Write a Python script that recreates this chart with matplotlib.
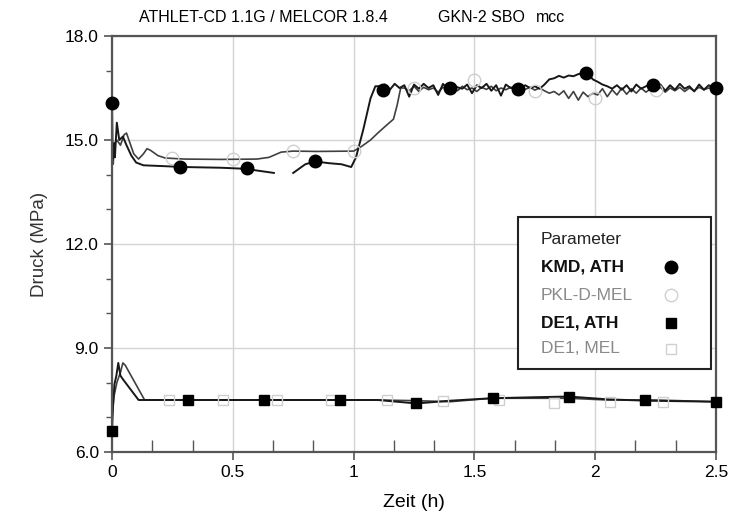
import numpy as np
import matplotlib
matplotlib.use('Agg')
import matplotlib.pyplot as plt
from matplotlib.patches import Rectangle
from matplotlib.ticker import MultipleLocator, FixedLocator

plt.rcParams['font.family'] = ['Liberation Sans', 'DejaVu Sans']

nan = np.nan

# --- KMD, ATH (Druck, MPa) ---
kmd_ath_t = [0.000, 0.003, 0.008, 0.012, 0.020, 0.030, 0.045, 0.060, 0.080, 0.100, 0.130, 0.200,
             0.300, 0.450, 0.550, 0.620, 0.670, nan, 0.750, 0.800, 0.840, 0.900, 0.950, 0.990,
             1.010, 1.040, 1.070, 1.090,
             1.11, 1.13, 1.15, 1.17, 1.19, 1.21, 1.23, 1.25, 1.27, 1.29,
             1.31, 1.33, 1.35, 1.37, 1.39, 1.41, 1.43, 1.45, 1.47, 1.49,
             1.51, 1.53, 1.55, 1.57, 1.59, 1.61, 1.63, 1.65, 1.67, 1.69,
             1.71, 1.73, 1.75, 1.77, 1.79, 1.81, 1.83, 1.85, 1.87, 1.89,
             1.91, 1.93, 1.95, 1.97, 1.99, 2.01, 2.03, 2.05, 2.07, 2.09,
             2.11, 2.13, 2.15, 2.17, 2.19, 2.21, 2.23, 2.25, 2.27, 2.29,
             2.31, 2.33, 2.35, 2.37, 2.39, 2.41, 2.43, 2.45, 2.47, 2.49, 2.50]
kmd_ath_p = [16.07, 14.45, 14.90, 14.50, 15.50, 15.00, 15.10, 14.85, 14.55, 14.35, 14.27, 14.25,
             14.22, 14.20, 14.17, 14.10, 14.05, nan, 14.05, 14.30, 14.38, 14.33, 14.30, 14.22,
             14.50, 15.30, 16.20, 16.55,
             16.55, 16.60, 16.45, 16.62, 16.50, 16.58, 16.25, 16.60, 16.48, 16.62,
             16.50, 16.58, 16.30, 16.62, 16.45, 16.60, 16.52, 16.48, 16.60, 16.35,
             16.58, 16.50, 16.62, 16.42, 16.58, 16.28, 16.60, 16.50, 16.55, 16.45,
             16.58, 16.50, 16.55, 16.48, 16.60, 16.75, 16.78, 16.85, 16.80, 16.86,
             16.84, 16.90, 16.93, 16.92, 16.75, 16.68, 16.60, 16.55, 16.48, 16.58,
             16.45, 16.58, 16.40, 16.60, 16.48, 16.55, 16.62, 16.45, 16.60, 16.42,
             16.58, 16.45, 16.62, 16.48, 16.55, 16.40, 16.60, 16.45, 16.58, 16.50, 16.50]
kmd_ath_mt = [0.0, 0.28, 0.56, 0.84, 1.12, 1.40, 1.68, 1.96, 2.24, 2.50]
kmd_ath_mp = [16.07, 14.22, 14.19, 14.39, 16.44, 16.50, 16.47, 16.93, 16.58, 16.50]

# --- PKL-D-MEL ---
pkl_mel_t = [0.000, 0.005, 0.010, 0.020, 0.035, 0.050, 0.060, 0.075, 0.090, 0.110, 0.130, 0.145,
             0.160, 0.190, 0.220, 0.300, 0.450, 0.600, 0.650, 0.700, 0.750, 0.850, 1.000, 1.030,
             1.070, 1.100, 1.140, 1.165, 1.180, 1.195,
             1.21, 1.23, 1.25, 1.27, 1.29, 1.31, 1.33, 1.35, 1.37, 1.39,
             1.41, 1.43, 1.45, 1.47, 1.49, 1.51, 1.53, 1.55, 1.57, 1.59,
             1.61, 1.63, 1.65, 1.67, 1.69, 1.71, 1.73, 1.75, 1.77, 1.79,
             1.81, 1.83, 1.85, 1.87, 1.89, 1.91, 1.93, 1.95, 1.97, 1.99,
             2.01, 2.03, 2.05, 2.07, 2.09, 2.11, 2.13, 2.15, 2.17, 2.19,
             2.21, 2.23, 2.25, 2.27, 2.29, 2.31, 2.33, 2.35, 2.37, 2.39,
             2.41, 2.43, 2.45, 2.47, 2.49, 2.50]
pkl_mel_p = [14.60, 14.30, 14.90, 15.00, 14.85, 15.15, 15.20, 14.90, 14.60, 14.45, 14.60, 14.75,
             14.70, 14.55, 14.48, 14.45, 14.44, 14.45, 14.50, 14.65, 14.68, 14.67, 14.68, 14.80,
             15.00, 15.20, 15.45, 15.60, 16.00, 16.50,
             16.50, 16.42, 16.55, 16.40, 16.52, 16.45, 16.50, 16.38, 16.52, 16.45,
             16.50, 16.42, 16.55, 16.45, 16.50, 16.40, 16.52, 16.46, 16.55, 16.42,
             16.50, 16.45, 16.52, 16.40, 16.50, 16.46, 16.52, 16.44, 16.50, 16.42,
             16.35, 16.40, 16.30, 16.42, 16.20, 16.40, 16.15, 16.38, 16.25, 16.35,
             16.30, 16.48, 16.25, 16.45, 16.30, 16.50, 16.32, 16.48, 16.35, 16.50,
             16.38, 16.48, 16.40, 16.52, 16.38, 16.50, 16.42, 16.52, 16.40, 16.50,
             16.42, 16.52, 16.45, 16.50, 16.48, 16.48]
pkl_mel_mt = [0.25, 0.50, 0.75, 1.00, 1.25, 1.50, 1.75, 2.00, 2.25]
pkl_mel_mp = [14.48, 14.45, 14.67, 14.67, 16.50, 16.72, 16.42, 16.20, 16.45]

# --- DE1, ATH ---
de1_ath_t = [0.000, 0.004, 0.010, 0.018, 0.026, 0.035, 0.045, 0.110, 0.500, 1.100, 1.260,
             1.400, 1.570, 1.750, 1.890, 2.050, 2.210, 2.500]
de1_ath_p = [6.60, 7.30, 7.95, 8.20, 8.57, 8.20, 8.10, 7.50, 7.50, 7.50, 7.40,
             7.48, 7.55, 7.58, 7.60, 7.52, 7.48, 7.45]
de1_ath_mt = [0.0, 0.315, 0.63, 0.945, 1.26, 1.575, 1.89, 2.205, 2.50]
de1_ath_mp = [6.60, 7.50, 7.50, 7.50, 7.40, 7.55, 7.60, 7.50, 7.45]

# --- DE1, MEL ---
de1_mel_t = [0.000, 0.008, 0.020, 0.035, 0.045, 0.055, 0.135, 0.500, 1.100, 1.260, 1.400,
             1.570, 1.750, 1.890, 2.050, 2.250, 2.500]
de1_mel_p = [7.00, 7.60, 8.00, 8.30, 8.57, 8.50, 7.50, 7.50, 7.50, 7.48, 7.45,
             7.55, 7.55, 7.55, 7.50, 7.50, 7.45]
de1_mel_mt = [0.235, 0.46, 0.685, 0.905, 1.14, 1.37, 1.60, 1.83, 2.06, 2.28]
de1_mel_mp = [7.50, 7.50, 7.50, 7.50, 7.50, 7.47, 7.50, 7.42, 7.44, 7.44]

fig = plt.figure(figsize=(7.32, 5.19), dpi=100)
ax = fig.add_axes([112 / 732, 1 - 452 / 519, 604 / 732, 416 / 519])

ax.plot(pkl_mel_t, pkl_mel_p, color='#404040', lw=1.2)
ax.plot(kmd_ath_t, kmd_ath_p, color='#181818', lw=1.4)
ax.plot(de1_mel_t, de1_mel_p, color='#404040', lw=1.2)
ax.plot(de1_ath_t, de1_ath_p, color='#181818', lw=1.4)

ax.plot(pkl_mel_mt, pkl_mel_mp, ls='none', marker='o', ms=9, mfc='none', mec='#cfcfcf', mew=1.0)
ax.plot(de1_mel_mt, de1_mel_mp, ls='none', marker='s', ms=7, mfc='none', mec='#cfcfcf', mew=1.0)
ax.plot(kmd_ath_mt, kmd_ath_mp, ls='none', marker='o', ms=9, color='black', clip_on=False, zorder=5)
ax.plot(de1_ath_mt, de1_ath_mp, ls='none', marker='s', ms=6.5, color='black', clip_on=False, zorder=5)

ax.set_xlim(0, 2.5)
ax.set_ylim(6, 18)
ax.set_xticks([0, 0.5, 1, 1.5, 2, 2.5])
ax.set_xticklabels(['0', '0.5', '1', '1.5', '2', '2.5'])
ax.set_yticks([6, 9, 12, 15, 18])
ax.set_yticklabels(['6.0', '9.0', '12.0', '15.0', '18.0'])
ax.xaxis.set_minor_locator(FixedLocator([1/6, 2/6, 4/6, 5/6, 7/6, 8/6, 10/6, 11/6, 13/6, 14/6]))
ax.yaxis.set_minor_locator(MultipleLocator(1.0))
ax.tick_params(axis='both', which='major', labelsize=12.5, color='#555555', length=6, width=1.2)
ax.tick_params(axis='x', which='minor', direction='in', length=9, color='#555555', width=1.0)
ax.tick_params(axis='y', which='minor', direction='out', length=4, color='#555555', width=1.0)
ax.grid(True, which='major', color='#d4d4d4', lw=1.0)
for s in ax.spines.values():
    s.set_color('#555555')
    s.set_linewidth(1.6)

ax.set_xlabel('Zeit (h)', fontsize=14, labelpad=10)
ax.set_ylabel('Druck (MPa)', fontsize=13.5, color='#333333', labelpad=12)

fig.text(263 / 732, 1 - 17 / 519, 'ATHLET-CD 1.1G / MELCOR 1.8.4', ha='center', va='center', fontsize=11.5)
fig.text(481 / 732, 1 - 17 / 519, 'GKN-2 SBO', ha='center', va='center', fontsize=11.5)
fig.text(551 / 732, 1 - 17 / 519, 'mcc', ha='center', va='center', fontsize=11.5)

# legend box
ax.add_patch(Rectangle((0.672, 0.200), 0.320, 0.365, transform=ax.transAxes, facecolor='white',
                       edgecolor='#222222', lw=1.5, zorder=10))
leg_rows = [('Parameter', 'normal', '#222222', None),
            ('KMD, ATH', 'bold', '#111111', dict(marker='o', ms=9, color='black')),
            ('PKL-D-MEL', 'normal', '#8a8a8a', dict(marker='o', ms=9, mfc='none', mec='#d0d0d0')),
            ('DE1, ATH', 'bold', '#111111', dict(marker='s', ms=6.5, color='black')),
            ('DE1, MEL', 'normal', '#8a8a8a', dict(marker='s', ms=6.5, mfc='none', mec='#d0d0d0'))]
row_y = [0.512, 0.445, 0.377, 0.310, 0.248]
for (lab, wt, col, mk), yy in zip(leg_rows, row_y):
    ax.text(0.710, yy, lab, transform=ax.transAxes, fontsize=12.5, fontweight=wt, color=col,
            va='center', ha='left', zorder=11)
    if mk:
        ax.plot([0.925], [yy], transform=ax.transAxes, ls='none', zorder=11, clip_on=False, **mk)

fig.savefig('out.png', dpi=100)
